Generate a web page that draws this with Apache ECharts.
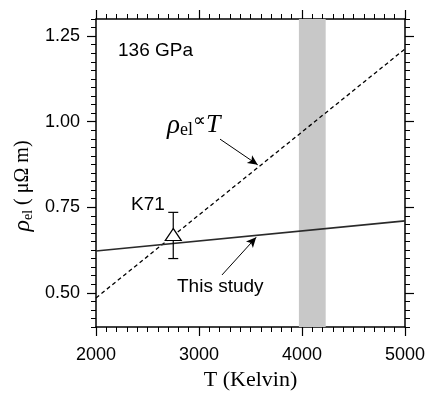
<!DOCTYPE html>
<html>
<head>
<meta charset="utf-8">
<script src="https://cdn.jsdelivr.net/npm/echarts@6/dist/echarts.min.js"></script>
<style>
html,body{margin:0;padding:0;background:#fff;}
#chart{width:428px;height:393px;}
</style>
</head>
<body>
<div id="chart"></div>
<script>
// ---- data ----
const xRange = [2000, 5000];
const yRange = [0.40, 1.30];
const xMajorTicks = [2000, 3000, 4000, 5000];
const yMajorTicks = [0.50, 0.75, 1.00, 1.25];
const thisStudy = [[2000, 0.622], [5000, 0.710]];
const proportionalT = [[2000, 0.485], [5000, 1.2125]];
// [T, rho, low, high]
const k71 = [[2750, 0.670, 0.600, 0.735]];
const bandRange = [3970, 4230];

const chart = echarts.init(document.getElementById('chart'), null, {renderer: 'canvas'});
const sans = '"Liberation Sans", Arial, Helvetica, sans-serif';
const serif = '"Liberation Serif", "Times New Roman", serif';
const axisLine = {show: true, lineStyle: {color: '#000', width: 1.5}};

function minorYAxis(pos) {
  return {
    type: 'value', position: pos, min: yRange[0], max: yRange[1], interval: 0.025,
    axisLine: axisLine,
    axisTick: {show: true, inside: false, length: 5, lineStyle: {color: '#000', width: 1}},
    axisLabel: {show: false}, splitLine: {show: false}
  };
}
function majorYAxis(pos, labels) {
  return {
    type: 'value', position: pos, min: yRange[0], max: yRange[1],
    axisLine: {show: false},
    axisTick: {show: true, inside: false, length: 9, customValues: yMajorTicks, lineStyle: {color: '#000', width: 1.2}},
    axisLabel: {show: labels, customValues: yMajorTicks, margin: 16, fontFamily: sans, fontSize: 18, color: '#000',
      formatter: v => v.toFixed(2)},
    splitLine: {show: false}
  };
}
function xAxisDef(pos, labels) {
  return {
    type: 'value', position: pos, min: xRange[0], max: xRange[1], interval: 1000,
    axisLine: axisLine,
    axisTick: {show: true, inside: false, length: 9, lineStyle: {color: '#000', width: 1.2}},
    minorTick: {show: true, splitNumber: 10, length: 5, lineStyle: {color: '#000', width: 1}},
    axisLabel: {show: labels, customValues: xMajorTicks, margin: 19, fontFamily: sans, fontSize: 18, color: '#000',
      formatter: v => String(v)},
    splitLine: {show: false}
  };
}

const xAxes = [xAxisDef('bottom', true), xAxisDef('top', false)];
xAxes[0].name = 'T (Kelvin)';
xAxes[0].nameLocation = 'middle';
xAxes[0].nameGap = 42;
xAxes[0].nameTextStyle = {fontFamily: serif, fontSize: 22, color: '#000'};

const yAxes = [minorYAxis('left'), majorYAxis('left', true), minorYAxis('right'), majorYAxis('right', false)];

const option = {
  animation: false,
  backgroundColor: '#fff',
  grid: {left: 96, right: 23, top: 19, bottom: 66, containLabel: false, outerBoundsMode: 'none'},
  xAxis: xAxes,
  yAxis: yAxes,
  series: [
    {
      type: 'line', name: 'band', xAxisIndex: 0, yAxisIndex: 0, data: [], symbol: 'none', silent: true,
      markArea: {silent: true, itemStyle: {color: '#c8c8c8'},
        data: [[{xAxis: bandRange[0]}, {xAxis: bandRange[1]}]]}
    },
    {
      type: 'line', name: 'proportional', xAxisIndex: 0, yAxisIndex: 0, data: proportionalT, symbol: 'none',
      lineStyle: {color: '#000', width: 1.3, type: [4, 3]}, z: 3,
      markLine: {silent: true, symbol: ['none', 'arrow'], symbolSize: [7, 10], label: {show: false},
        lineStyle: {color: '#000', width: 1, type: 'solid'},
        data: [[{coord: [3204, 0.949]}, {coord: [3570, 0.874]}]]}
    },
    {
      type: 'line', name: 'this study', xAxisIndex: 0, yAxisIndex: 0, data: thisStudy, symbol: 'none',
      lineStyle: {color: '#2a2a2a', width: 1.6}, z: 3,
      markLine: {silent: true, symbol: ['none', 'arrow'], symbolSize: [7, 10], label: {show: false},
        lineStyle: {color: '#000', width: 1, type: 'solid'},
        data: [[{coord: [3223, 0.552]}, {coord: [3555, 0.662]}]]}
    },
    {
      type: 'custom', name: 'K71 error', xAxisIndex: 0, yAxisIndex: 0, data: k71, z: 4,
      renderItem: function (params, api) {
        const lo = api.coord([api.value(0), api.value(2)]);
        const hi = api.coord([api.value(0), api.value(3)]);
        const w = 5;
        const st = {stroke: '#000', lineWidth: 1.2};
        return {type: 'group', children: [
          {type: 'line', shape: {x1: lo[0], y1: lo[1], x2: hi[0], y2: hi[1]}, style: st},
          {type: 'line', shape: {x1: lo[0] - w, y1: lo[1], x2: lo[0] + w, y2: lo[1]}, style: st},
          {type: 'line', shape: {x1: hi[0] - w, y1: hi[1], x2: hi[0] + w, y2: hi[1]}, style: st}
        ]};
      }
    },
    {
      type: 'scatter', name: 'K71', xAxisIndex: 0, yAxisIndex: 0, data: k71.map(d => [d[0], d[1]]), z: 5,
      symbol: 'triangle', symbolSize: [16, 12],
      itemStyle: {color: '#fff', borderColor: '#000', borderWidth: 1.2, opacity: 1}
    }
  ],
  graphic: [
    {type: 'text', left: 118, top: 41, style: {text: '136 GPa', font: '19px ' + sans, fill: '#000'}},
    {type: 'text', left: 131, top: 195, style: {text: 'K71', font: '19px ' + sans, fill: '#000'}},
    {type: 'text', left: 177, top: 277, style: {text: 'This study', font: '19px ' + sans, fill: '#000'}},
    {type: 'text', left: 167, top: 112, style: {
      text: '{rho|ρ}{sub|el}{pr|∝}{t|T}',
      rich: {
        rho: {fontFamily: serif, fontStyle: 'italic', fontSize: 27, fill: '#000'},
        sub: {fontFamily: serif, fontSize: 18, fill: '#000', verticalAlign: 'bottom', padding: [9, 0, 0, 0]},
        pr: {fontFamily: serif, fontSize: 18, fill: '#000', verticalAlign: 'top', padding: [0, 0, 4, 0]},
        t: {fontFamily: serif, fontStyle: 'italic', fontSize: 26, fill: '#000'}
      }
    }},
    {type: 'text', x: 23, y: 186, rotation: Math.PI / 2, style: {
      text: '{rho|ρ}{sub|el}{txt| ( μΩ m)}',
      align: 'center', verticalAlign: 'middle',
      rich: {
        rho: {fontFamily: serif, fontStyle: 'italic', fontSize: 24, fill: '#000'},
        sub: {fontFamily: serif, fontSize: 14, fill: '#000', verticalAlign: 'bottom', padding: [10, 0, 0, 0]},
        txt: {fontFamily: serif, fontSize: 20, fill: '#000'}
      }
    }}
  ]
};
chart.setOption(option);
</script>
</body>
</html>
